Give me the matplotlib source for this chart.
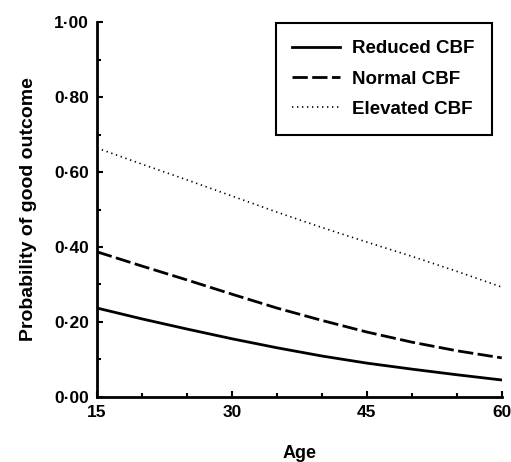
import numpy as np
import matplotlib
matplotlib.use("Agg")
import matplotlib.pyplot as plt
from matplotlib.ticker import MultipleLocator

plt.rcParams['font.family'] = ['Liberation Sans', 'DejaVu Sans']
plt.rcParams['font.weight'] = 'bold'

# values
age = [15, 20, 25, 30, 35, 40, 45, 50, 55, 60]
reduced = [0.237, 0.208, 0.181, 0.155, 0.131, 0.109, 0.090, 0.074, 0.059, 0.045]
normal = [0.387, 0.349, 0.312, 0.274, 0.237, 0.204, 0.173, 0.146, 0.123, 0.104]
elevated = [0.664, 0.621, 0.579, 0.536, 0.493, 0.452, 0.413, 0.375, 0.335, 0.293]

yticks = [0.0, 0.2, 0.4, 0.6, 0.8, 1.0]
ytick_labels = ['0·00', '0·20', '0·40', '0·60', '0·80', '1·00']
xticks = [15, 30, 45, 60]

fig = plt.figure(figsize=(5.11, 4.62), dpi=100)
ax = fig.add_axes([0.190, 0.141, 0.792, 0.811])

ax.plot(age, reduced, color='black', lw=2.0, label='Reduced CBF')
ax.plot(age, normal, color='black', lw=2.0, dashes=(5.5, 1.6), label='Normal CBF')
ax.plot(age, elevated, color='black', lw=1.2, linestyle=(0, (0.8, 2.2)), label='Elevated CBF')

ax.set_xlim(15, 60)
ax.set_ylim(0, 1.0)
ax.set_xticks(xticks)
ax.set_xticklabels([str(t) for t in xticks])
ax.set_yticks(yticks)
ax.set_yticklabels(ytick_labels)
ax.xaxis.set_minor_locator(MultipleLocator(5))
ax.yaxis.set_minor_locator(MultipleLocator(0.1))
ax.tick_params(which='major', direction='in', length=4, width=1.5, labelsize=12.5, pad=6)
ax.tick_params(which='minor', direction='in', length=3, width=1.5)

for s in ['top', 'right']:
    ax.spines[s].set_visible(False)
for s in ['left', 'bottom']:
    ax.spines[s].set_linewidth(2)

ax.set_xlabel('Age', fontsize=13, fontweight='bold', labelpad=18)
ax.set_ylabel('Probability of good outcome', fontsize=14, fontweight='bold', labelpad=12)

leg = ax.legend(loc='upper right', bbox_to_anchor=(0.975, 0.997), borderaxespad=0,
                fancybox=False, edgecolor='black', framealpha=1, fontsize=13.5,
                handlelength=2.55, handletextpad=0.65, labelspacing=0.7, borderpad=0.9)
leg.get_frame().set_linewidth(1.5)

fig.savefig('out.png', dpi=100)
